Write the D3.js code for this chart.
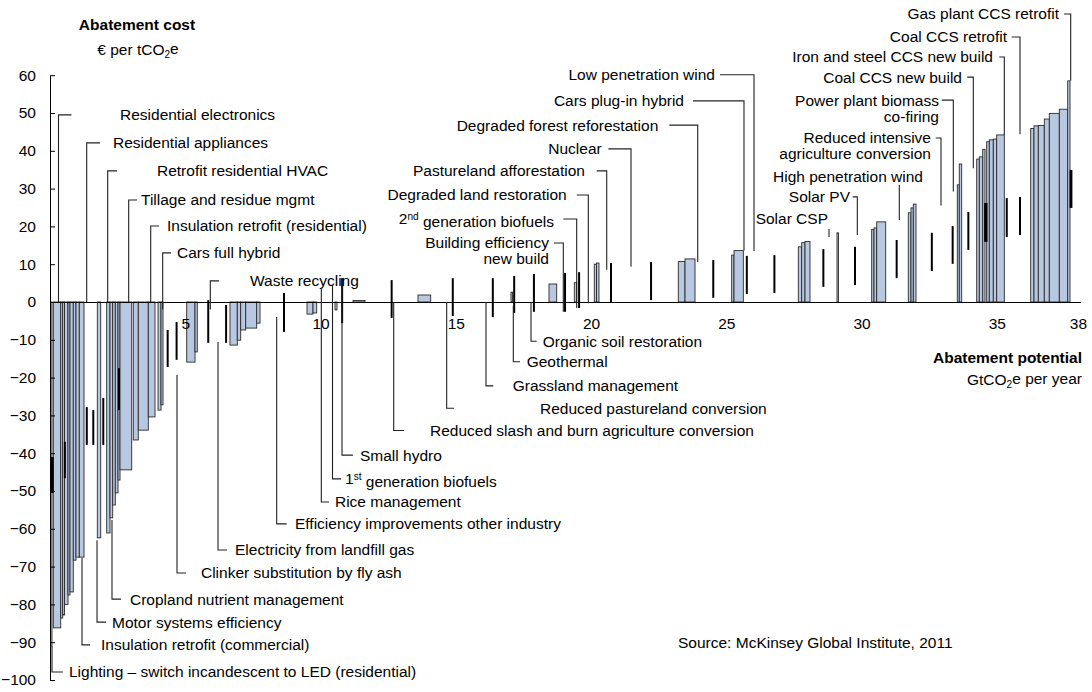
<!DOCTYPE html>
<html><head><meta charset="utf-8">
<script src="https://cdn.jsdelivr.net/npm/d3@7"></script>
<style>
body{margin:0;background:#fff}
text{font-family:"Liberation Sans",Arial,Helvetica,sans-serif;fill:#000}
</style>
</head><body>
<svg id="chart" width="1092" height="692"></svg>
<script>
// ---- data (GtCO2e start, width; cost in EUR per tCO2e) ----
const barStart = [0.018,0.122,0.396,0.469,0.536,0.665,0.739,0.861,0.961,1.083,1.749,2.096,2.218,2.318,2.414,2.514,2.588,3.079,3.264,3.634,3.993,4.104,5.054,5.360,6.654,6.924,7.050,7.235,7.641,9.501,9.723,10.536,11.201,13.604,17.043,18.447,19.383,20.122,20.203,23.227,23.475,25.201,25.287,27.664,27.789,27.911,29.094,30.377,30.462,30.562,31.730,31.830,31.915,33.541,33.615,34.259,34.355,34.481,34.628,34.725,34.872,34.998,36.255,36.377,36.536,36.758,36.943,37.313,37.623];
const barWidth = [0.055,0.274,0.074,0.067,0.130,0.074,0.122,0.100,0.122,0.174,0.126,0.122,0.100,0.096,0.100,0.074,0.433,0.185,0.370,0.248,0.111,0.074,0.307,0.085,0.270,0.126,0.185,0.407,0.122,0.222,0.137,0.074,0.444,0.470,0.055,0.285,0.089,0.081,0.092,0.248,0.370,0.085,0.344,0.126,0.122,0.185,0.055,0.085,0.100,0.333,0.100,0.085,0.100,0.074,0.089,0.096,0.126,0.085,0.096,0.148,0.126,0.281,0.122,0.159,0.222,0.185,0.370,0.311,0.085];
const barCost = [-91,-86.2,-83.6,-82.8,-80,-77.5,-76.7,-68.3,-67.5,-67.5,-62.4,-61.1,-57.1,-53.7,-50.5,-47.1,-44.4,-36.5,-33.9,-30.4,-28.6,-27.2,-15.9,-13.2,-11.4,-10.1,-7.4,-6.9,-5.6,-3.2,-2.9,-2.1,0.4,1.85,2.6,4.76,5.1,10.0,10.3,10.7,11.4,12.4,13.6,14.6,15.7,16.0,18.3,19.2,19.6,21.2,23.6,24.9,25.9,31.0,36.5,37.8,38.4,40.4,42.4,42.9,43.1,44.2,45.9,46.6,46.7,48.4,49.9,51.0,58.5];

// thin floating measures (potential, upper cost, lower cost)
const segX    = [0.07,0.10,0.55,1.36,1.60,1.97,2.55,4.35,4.68,5.85,6.51,8.65,10.8,12.63,14.89,16.37,17.16,17.89,19.04,19.56,20.74,22.22,24.52,25.76,26.78,28.59,29.76,31.30,32.60,33.37,33.95,34.57,34.62,35.37,35.86,37.73,37.76];
const segHigh = [-41,-41,-37,-27.8,-28.6,-25.4,-17.5,-7.4,-5.3,0.5,-0.8,2.4,6.3,5.8,6.3,6.3,6.9,7.4,7.7,7.9,10.3,10.6,11.1,12.2,12.4,14.0,14.6,16.4,18.3,20.1,23.8,26.2,26.2,27.5,27.8,34.9,34.9];
const segLow  = [-50.5,-50.5,-46.6,-37.8,-37.8,-37.8,-28.6,-17.2,-15.3,-10.8,-10.8,-7.9,-5.6,-4.2,-3.7,-4.0,-2.9,-2.6,-2.6,-1.6,0,0.5,1.1,2.1,2.4,4.0,4.5,6.3,8.2,10.1,13.8,15.9,15.9,17.2,17.7,24.9,24.9];

const yTickValues = [60,50,40,30,20,10,0,-10,-20,-30,-40,-50,-60,-70,-80,-90,-100];
const xTickValues = [5,10,15,20,25,30,35,38];

// labels: text to the right of the leader
const rightLabels = [
  {t:["Residential electronics"], tx:2.588, ty:49.5, hx:0.795, vx:0.314, y1:0},
  {t:["Residential appliances"], tx:2.329, ty:42.1, hx:1.848, vx:1.357, y1:0},
  {t:["Retrofit residential HVAC"], tx:3.956, ty:34.7, hx:2.477, vx:2.133, y1:0},
  {t:["Tillage and residue mgmt"], tx:3.364, ty:27.0, hx:3.216, vx:2.909, y1:0},
  {t:["Insulation retrofit (residential)"], tx:4.325, ty:20.1, hx:4.03, vx:3.723, y1:0},
  {t:["Cars full hybrid"], tx:4.695, ty:13.0, hx:4.473, vx:4.166, y1:-2},
  {t:["Waste recycling"], tx:7.394, ty:5.6, hx:6.248, vx:5.926, y1:-2},
  {t:["Lighting \u2013 switch incandescent to LED (residential)"], tx:0.702, ty:-97.9, hx:0.48, vx:0.074, y1:-91},
  {t:["Insulation retrofit (commercial)"], tx:1.885, ty:-90.7, hx:1.479, vx:1.183, y1:-67.7},
  {t:["Motor systems efficiency"], tx:2.292, ty:-84.7, hx:2.07, vx:1.738, y1:-63},
  {t:["Cropland nutrient management"], tx:2.957, ty:-78.6, hx:2.625, vx:2.292, y1:-57.7},
  {t:["Clinker substitution by fly ash"], tx:5.582, ty:-71.7, hx:5.028, vx:4.695, y1:-19.3},
  {t:["Electricity from landfill gas"], tx:6.839, ty:-65.6, hx:6.543, vx:6.211, y1:-10.6},
  {t:["Efficiency improvements other industry"], tx:9.057, ty:-58.7, hx:8.751, vx:8.381, y1:-4},
  {t:["Rice management"], tx:10.536, ty:-52.9, hx:10.314, vx:10.03, y1:3.7},
  {t:["1^st generation biofuels"], tx:10.906, ty:-46.8, hx:10.758, vx:10.444, y1:4.5},
  {t:["Small hydro"], tx:11.46, ty:-40.5, hx:11.2, vx:10.795, y1:6.3},
  {t:["Reduced slash and burn agriculture conversion"], tx:14.048, ty:-34.0, hx:13.087, vx:12.706, y1:0},
  {t:["Reduced pastureland conversion"], tx:18.115, ty:-28.1, hx:14.935, vx:14.665, y1:0},
  {t:["Grassland management"], tx:17.105, ty:-22.2, hx:16.388, vx:16.118, y1:0},
  {t:["Geothermal"], tx:17.623, ty:-15.8, hx:17.375, vx:17.128, y1:-1},
  {t:["Organic soil restoration"], tx:18.214, ty:-10.4, hx:17.992, vx:17.782, y1:0}
];
// labels: text to the left of the leader
const leftLabels = [
  {t:["Low penetration wind"], tx:24.584, ty:60.1, hx:24.769, vx:26.026, y1:13.5},
  {t:["Cars plug-in hybrid"], tx:23.438, ty:53.2, hx:23.771, vx:25.656, y1:13.6},
  {t:["Degraded forest reforestation"], tx:22.488, ty:46.8, hx:22.896, vx:23.945, y1:10.6},
  {t:["Nuclear"], tx:20.395, ty:40.5, hx:20.641, vx:21.479, y1:9.3},
  {t:["Pastureland afforestation"], tx:19.778, ty:34.7, hx:20.211, vx:20.581, y1:8.5},
  {t:["Degraded land restoration"], tx:19.102, ty:28.3, hx:19.471, vx:19.9, y1:-0.3},
  {t:["2^nd generation biofuels"], tx:18.632, ty:21.96, hx:18.976, vx:19.471, y1:-1.6},
  {t:["Building efficiency","new build"], tx:18.447, ty:15.6, hx:18.632, vx:18.976, y1:-2.6},
  {t:["Gas plant CCS retrofit"], tx:37.301, ty:76.2, hx:37.486, vx:37.734, y1:58.5},
  {t:["Coal CCS retrofit"], tx:35.379, ty:70.1, hx:35.553, vx:35.86, y1:44.4},
  {t:["Iron and steel CCS new build"], tx:34.861, ty:64.8, hx:35.094, vx:35.279, y1:44.2},
  {t:["Coal CCS new build"], tx:33.715, ty:59.5, hx:33.911, vx:34.133, y1:35.4},
  {t:["Power plant biomass","co-firing"], tx:32.865, ty:53.4, hx:32.965, vx:33.394, y1:29.2},
  {t:["Reduced intensive","agriculture conversion"], tx:32.569, ty:43.4, hx:32.743, vx:32.939, y1:25.5},
  {t:["High penetration wind"], tx:32.274, ty:33.3, hx:null, vx:31.397, y0:31.0, y1:21.7},
  {t:["Solar PV"], tx:29.575, ty:27.8, hx:29.675, vx:29.845, y1:17.7},
  {t:["Solar CSP"], tx:28.762, ty:22.0, hx:null, vx:28.799, y0:19.3, y1:17.2}
];

// ---- drawing ----
const svg = d3.select("#chart");
const FS = 15.5;
const x = d3.scaleLinear().domain([0,38]).range([50, 50+38*27.05]);
const y = d3.scaleLinear().domain([-100,60]).range([680, 75.2]);

// bars
const bars = barStart.map((s,i)=>({s, w:barWidth[i], c:barCost[i]}));
svg.append("g").selectAll("rect").data(bars).join("rect")
  .attr("x", d=>x(d.s))
  .attr("width", d=>Math.max(0.8, x(d.s+d.w)-x(d.s)))
  .attr("y", d=>Math.min(y(d.c), y(0)))
  .attr("height", d=>Math.abs(y(d.c)-y(0)))
  .attr("fill", "#b9c8e1")
  .attr("stroke", "#2a2a2a")
  .attr("stroke-width", 0.9);

// floating thin measures
svg.append("g").selectAll("line").data(segX.map((v,i)=>({v, h:segHigh[i], l:segLow[i]}))).join("line")
  .attr("x1", d=>x(d.v)).attr("x2", d=>x(d.v))
  .attr("y1", d=>y(d.h)).attr("y2", d=>y(d.l))
  .attr("stroke", "#000").attr("stroke-width", 2);

// axes
const yAxis = d3.axisLeft(y).tickValues(yTickValues).tickSizeInner(-5).tickSizeOuter(0).tickPadding(14);
const gy = svg.append("g").attr("transform", `translate(${x(0)},0)`).call(yAxis);
gy.selectAll("text").style("font-size", FS+"px").attr("font-family", "Liberation Sans, Arial, sans-serif");
gy.selectAll("line,path").attr("stroke", "#000");

const xAxis = d3.axisBottom(x).tickValues(xTickValues).tickSize(0).tickSizeOuter(0).tickPadding(16).tickFormat(d3.format("d"));
const gx = svg.append("g").attr("transform", `translate(0,${y(0)})`).call(xAxis);
gx.selectAll("text").style("font-size", FS+"px").attr("font-family", "Liberation Sans, Arial, sans-serif");
gx.select(".domain").attr("stroke", "#000").attr("d", `M${x(0)},0.5H${x(38)+3}`);

// text helper with ^superscript support
function addText(g, str, px, py, anchor){
  const t = g.append("text").attr("x", px).attr("y", py).attr("dy", "0.35em")
    .attr("text-anchor", anchor).style("font-size", FS+"px");
  const m = str.match(/^(\d+)\^(\w+)(.*)$/);
  if(m){
    t.append("tspan").text(m[1]);
    t.append("tspan").attr("dy","-0.45em").style("font-size",(FS*0.65)+"px").text(m[2]);
    t.append("tspan").attr("dy","0.45em").text(m[3]);
  } else t.text(str);
  return t;
}

const lg = svg.append("g");
function leader(d){
  const p = d3.path();
  if(d.hx !== null && d.hx !== undefined){
    p.moveTo(x(d.hx), y(d.ty));
    p.lineTo(x(d.vx), y(d.ty));
    p.lineTo(x(d.vx), y(d.y1));
  } else {
    p.moveTo(x(d.vx), y(d.y0));
    p.lineTo(x(d.vx), y(d.y1));
  }
  lg.append("path").attr("d", p.toString()).attr("fill","none").attr("stroke","#222").attr("stroke-width",1.1);
}
rightLabels.forEach(d=>{
  leader(d);
  d.t.forEach((s,k)=>addText(lg, s, x(d.tx), y(d.ty)+k*16, "start"));
});
leftLabels.forEach(d=>{
  leader(d);
  d.t.forEach((s,k)=>addText(lg, s, x(d.tx), y(d.ty)+k*16, "end"));
});

// titles
const tg = svg.append("g");
tg.append("text").attr("x",137).attr("y",25).attr("dy","0.35em").attr("text-anchor","middle")
  .style("font-size",FS+"px").style("font-weight","bold").text("Abatement cost");
const t2 = tg.append("text").attr("x",138).attr("y",50).attr("dy","0.35em").attr("text-anchor","middle").style("font-size",FS+"px");
t2.append("tspan").text("\u20ac per tCO");
t2.append("tspan").attr("dy","0.3em").style("font-size",(FS*0.65)+"px").text("2");
t2.append("tspan").attr("dy","-0.3em").text("e");

tg.append("text").attr("x",1082).attr("y",358).attr("dy","0.35em").attr("text-anchor","end")
  .style("font-size",FS+"px").style("font-weight","bold").text("Abatement potential");
const t4 = tg.append("text").attr("x",1082).attr("y",380).attr("dy","0.35em").attr("text-anchor","end").style("font-size",FS+"px");
t4.append("tspan").text("GtCO");
t4.append("tspan").attr("dy","0.3em").style("font-size",(FS*0.65)+"px").text("2");
t4.append("tspan").attr("dy","-0.3em").text("e per year");

tg.append("text").attr("x",678).attr("y",643).attr("dy","0.35em").style("font-size",FS+"px")
  .text("Source: McKinsey Global Institute, 2011");
</script>
</body></html>
